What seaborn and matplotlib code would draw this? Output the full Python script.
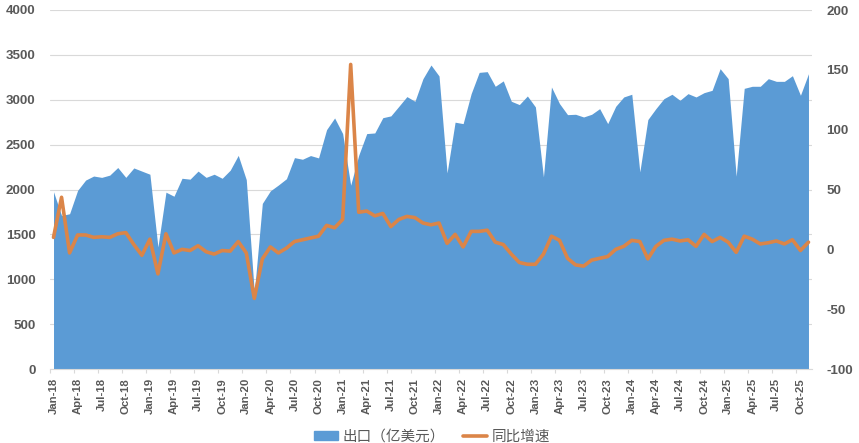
import pandas as pd
import numpy as np
import matplotlib
matplotlib.use("Agg")
import matplotlib.pyplot as plt
import seaborn as sns

# monthly values, Jan-18 to Nov-25
export_vals = [1975, 1710, 1730, 1990, 2105, 2150, 2135, 2160, 2245, 2135, 2240, 2205,
               2170, 1360, 1970, 1925, 2125, 2115, 2205, 2135, 2170, 2125, 2215, 2380,
               2110, 850, 1845, 1985, 2050, 2120, 2355, 2337, 2378, 2352, 2667, 2797,
               2623, 2048, 2382, 2623, 2630, 2800, 2820, 2927, 3035, 2983, 3235, 3387,
               3265, 2185, 2750, 2734, 3068, 3305, 3313, 3150, 3210, 2983, 2946, 3042,
               2920, 2140, 3142, 2957, 2834, 2838, 2808, 2838, 2901, 2734, 2927, 3031,
               3061, 2196, 2779, 2901, 3012, 3061, 2994, 3068, 3031, 3079, 3105, 3346,
               3235, 2148, 3127, 3150, 3150, 3235, 3205, 3205, 3268, 3050, 3290]
yoy_vals = [10, 43.5, -3, 12, 12, 10, 10.5, 10, 13, 14, 4, -5,
            8.5, -20.5, 13, -3, 0, -1, 3, -2, -4, -1, -1.5, 6.5,
            -3, -41, -8, 2, -3, 1, 6.5, 8, 9.5, 11, 20, 18,
            25, 154.5, 31, 32, 28, 30, 19, 25, 27.5, 26.5, 22, 20.5,
            22, 5, 12.5, 2, 15, 15, 16, 6, 4, -4, -11, -12.5,
            -12.5, -4, 11, 7.5, -7.5, -13, -14, -9, -7.5, -6, 0, 2.5,
            7.5, 6.5, -8, 2.5, 7.5, 8.5, 7, 8, 2.5, 12.5, 6.5, 10,
            6, -2.5, 11, 8.5, 4.5, 5.5, 7, 4.5, 8, -1, 6]
months = pd.date_range("2018-01-01", periods=len(export_vals), freq="MS")
left_ticks = [0, 500, 1000, 1500, 2000, 2500, 3000, 3500, 4000]
right_ticks = [-100, -50, 0, 50, 100, 150, 200]

BLUE = "#5B9BD5"
ORANGE = "#DB8548"
GREY = "#595959"
GRID = "#D9D9D9"

sns.set_theme(style="white")
plt.rcParams['font.family'] = ['Liberation Sans', 'Noto Sans CJK SC', 'DejaVu Sans']
plt.rcParams['axes.unicode_minus'] = False

df = pd.DataFrame({"pos": np.arange(len(months)), "export": export_vals, "yoy": yoy_vals})

fig = plt.figure(figsize=(8.59, 4.43), dpi=100)
ax = fig.add_axes([49.5 / 859, 1 - 369 / 443, 763 / 859, 359 / 443])

# area on the left axis
ax.fill_between(df["pos"], df["export"], 0, color=BLUE, linewidth=0, zorder=2)
ax.set_xlim(-0.5, len(months) - 0.5)
ax.set_ylim(0, 4000)
ax.set_yticks(left_ticks)
ax.grid(axis="y", color=GRID, linewidth=0.8, zorder=0)
ax.set_axisbelow(True)
ax.set_xlabel("")
ax.set_ylabel("")

# labels sit on the month, tick marks on the boundary before it
label_pos = df["pos"][::3]
ax.set_xticks(label_pos)
ax.set_xticklabels(months[::3].strftime("%b-%y"), rotation=90, fontsize=8.2,
                   fontweight="bold", color=GREY)
ax.set_xticks(label_pos - 0.5, minor=True)
ax.tick_params(axis="x", which="major", length=0, pad=6.5)
ax.tick_params(axis="x", which="minor", length=3, width=0.8, color=GRID, bottom=True)
ax.tick_params(axis="y", length=0, pad=10, labelsize=9.6, labelcolor=GREY)
for t in ax.get_yticklabels():
    t.set_fontweight("bold")
for s in ["top", "right", "left"]:
    ax.spines[s].set_visible(False)
ax.spines["bottom"].set_color(GRID)
ax.spines["bottom"].set_linewidth(0.8)

# growth line on the right axis
ax2 = ax.twinx()
sns.lineplot(data=df, x="pos", y="yoy", color=ORANGE, linewidth=2.6, ax=ax2, zorder=3)
ax2.set_ylim(-100, 200)
ax2.set_yticks(right_ticks)
ax2.set_xlabel("")
ax2.set_ylabel("")
ax2.grid(False)
ax2.tick_params(axis="y", length=0, pad=10, labelsize=9.6, labelcolor=GREY)
for t in ax2.get_yticklabels():
    t.set_fontweight("bold")
for s in ax2.spines.values():
    s.set_visible(False)

handles = [plt.Rectangle((0, 0), 1, 1, color=BLUE),
           plt.Line2D([0], [0], color=ORANGE, linewidth=2.6)]
fig.legend(handles, ["出口（亿美元）", "同比增速"], ncol=2, frameon=False,
           loc="center", bbox_to_anchor=(432 / 859, 1 - 436.5 / 443),
           prop={"size": 10.5}, labelcolor=GREY, handlelength=1.65, handleheight=0.6,
           handletextpad=0.3, columnspacing=1.25, borderpad=0, borderaxespad=0)

fig.savefig("out.png", dpi=100)
